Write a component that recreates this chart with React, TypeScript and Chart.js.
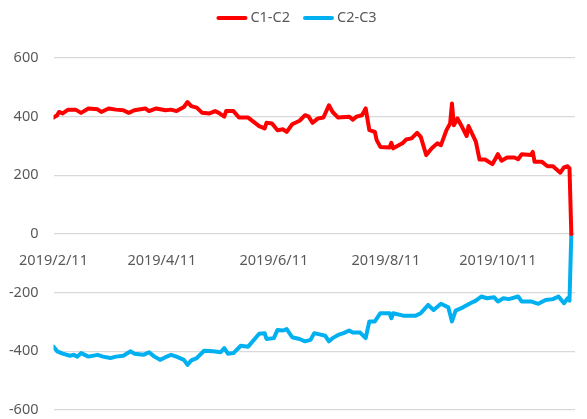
import React, { useEffect, useRef } from "react";
import { Chart, registerables } from "chart.js";

Chart.register(...registerables);

// Days since 2019/2/11 and values for each series
const redDays = [0, 2, 3, 5, 8, 12, 15, 19, 24, 26, 30, 34, 38, 41, 44, 50, 52, 56, 61, 64, 67, 71, 73, 75, 78, 81, 85, 88, 90, 93, 94, 98, 101, 106, 112, 115, 116, 119, 122, 125, 127, 130, 134, 137, 139, 141, 144, 147, 150, 152, 155, 161, 163, 165, 168, 170, 172, 175, 176, 178, 183, 184, 185, 190, 192, 195, 198, 200, 203, 206, 209, 211, 214, 216, 217, 218, 220, 222, 225, 226, 230, 232, 235, 239, 242, 244, 247, 251, 253, 255, 260, 261, 262, 266, 269, 272, 276, 278, 280, 281, 282];
const redValues = [397, 405, 416, 411, 424, 424, 413, 428, 425, 416, 428, 424, 422, 413, 422, 428, 419, 428, 422, 424, 419, 433, 450, 436, 431, 413, 411, 419, 413, 400, 419, 419, 397, 397, 368, 360, 379, 377, 354, 357, 348, 374, 386, 405, 400, 379, 394, 397, 439, 416, 397, 400, 390, 400, 405, 428, 354, 348, 320, 297, 295, 311, 292, 309, 322, 326, 345, 331, 269, 292, 309, 303, 354, 377, 445, 371, 394, 371, 334, 368, 315, 254, 254, 238, 272, 250, 261, 261, 255, 272, 269, 280, 246, 246, 231, 231, 209, 227, 231, 224, 0];

const blueDays = [0, 2, 5, 9, 11, 13, 15, 19, 24, 27, 31, 34, 38, 42, 44, 49, 52, 55, 58, 61, 64, 67, 71, 73, 75, 78, 82, 87, 91, 93, 95, 98, 102, 106, 112, 115, 116, 120, 122, 125, 127, 130, 134, 137, 140, 142, 146, 148, 150, 152, 155, 158, 161, 163, 167, 170, 172, 175, 178, 183, 184, 185, 191, 197, 200, 204, 207, 211, 215, 217, 219, 223, 227, 230, 233, 236, 240, 242, 245, 248, 253, 255, 260, 264, 268, 272, 275, 278, 280, 281, 282];
const blueValues = [-384, -400, -408, -415, -412, -418, -406, -418, -412, -418, -423, -418, -415, -400, -408, -412, -403, -418, -429, -420, -412, -418, -429, -446, -431, -423, -398, -400, -403, -389, -408, -406, -381, -384, -340, -338, -358, -355, -327, -329, -324, -352, -358, -366, -361, -338, -344, -347, -366, -355, -344, -338, -329, -336, -336, -355, -298, -298, -270, -270, -287, -270, -279, -279, -270, -242, -259, -238, -250, -298, -261, -250, -236, -227, -213, -219, -216, -230, -219, -222, -213, -230, -230, -238, -225, -222, -213, -236, -219, -227, 0];

const seriesNames = ["C1-C2", "C2-C3"];
const seriesColors = ["#ff0000", "#00b0f0"];

const xTickDays = [0, 59, 120, 181, 242];
const xTickLabels = ["2019/2/11", "2019/4/11", "2019/6/11", "2019/8/11", "2019/10/11"];

const FONT = '"Noto Sans", sans-serif';
const TEXT_COLOR = "#595959";

const legendPlugin = {
  id: "customLegend",
  afterDraw(chart: any) {
    const ctx = chart.ctx;
    ctx.save();
    ctx.font = `14.5px ${FONT}`;
    const lineLen = 31;
    const gapText = 3;
    const gapItem = 13;
    const widths = seriesNames.map((n) => ctx.measureText(n).width);
    let total = 0;
    widths.forEach((w, i) => {
      total += lineLen + gapText + w + (i < widths.length - 1 ? gapItem : 0);
    });
    let x = chart.width / 2 + 3 - total / 2;
    const y = 18;
    seriesNames.forEach((n, i) => {
      ctx.strokeStyle = seriesColors[i];
      ctx.lineWidth = 4;
      ctx.lineCap = "round";
      ctx.beginPath();
      ctx.moveTo(x + 2, y);
      ctx.lineTo(x + lineLen - 2, y);
      ctx.stroke();
      ctx.fillStyle = TEXT_COLOR;
      ctx.textBaseline = "middle";
      ctx.textAlign = "left";
      ctx.fillText(n, x + lineLen + gapText, y);
      x += lineLen + gapText + widths[i] + gapItem;
    });
    ctx.restore();
  },
};

export default function App() {
  const canvasRef = useRef<HTMLCanvasElement | null>(null);

  useEffect(() => {
    if (!canvasRef.current) return;
    const chart = new Chart(canvasRef.current, {
      type: "line",
      data: {
        datasets: [
          {
            label: seriesNames[0],
            data: redDays.map((d, i) => ({ x: d, y: redValues[i] })),
            borderColor: seriesColors[0],
            backgroundColor: seriesColors[0],
            borderWidth: 4,
            pointRadius: 0,
            tension: 0,
            borderJoinStyle: "round",
            borderCapStyle: "round",
          },
          {
            label: seriesNames[1],
            data: blueDays.map((d, i) => ({ x: d, y: blueValues[i] })),
            borderColor: seriesColors[1],
            backgroundColor: seriesColors[1],
            borderWidth: 4,
            pointRadius: 0,
            tension: 0,
            borderJoinStyle: "round",
            borderCapStyle: "round",
          },
        ],
      },
      options: {
        responsive: false,
        animation: false,
        layout: { padding: { top: 58, right: 12, bottom: 9, left: 0 } },
        plugins: {
          legend: { display: false },
          tooltip: { enabled: false },
        },
        scales: {
          x: {
            type: "linear",
            position: { y: 0 } as any,
            min: 0,
            max: 284,
            grid: { display: false },
            border: { display: false },
            afterBuildTicks: (scale: any) => {
              scale.ticks = xTickDays.map((v) => ({ value: v }));
            },
            afterFit: (scale: any) => {
              scale.height = 0;
              scale.paddingLeft = 0;
              scale.paddingRight = 0;
              scale.paddingTop = 0;
              scale.paddingBottom = 0;
            },
            ticks: {
              autoSkip: false,
              maxRotation: 0,
              padding: 10,
              color: TEXT_COLOR,
              font: { family: FONT, size: 14.5 },
              callback: (value: any) => {
                const idx = xTickDays.indexOf(Number(value));
                return idx >= 0 ? xTickLabels[idx] : "";
              },
            },
          },
          y: {
            min: -600,
            max: 600,
            afterFit: (scale: any) => {
              scale.width = 53.5;
              scale.paddingTop = 0;
              scale.paddingBottom = 0;
              scale.paddingLeft = 0;
              scale.paddingRight = 0;
            },
            grid: { color: "#d9d9d9", lineWidth: 1.2, drawTicks: false },
            border: { display: false },
            ticks: {
              stepSize: 200,
              padding: 15,
              color: TEXT_COLOR,
              font: { family: FONT, size: 14.5 },
            },
          },
        },
      },
      plugins: [legendPlugin],
    } as any);
    return () => chart.destroy();
  }, []);

  return (
    <div style={{ position: "fixed", left: 0, top: 0, width: 587, height: 419, background: "#fff" }}>
      <canvas ref={canvasRef} width={587} height={419} style={{ display: "block" }} />
    </div>
  );
}
